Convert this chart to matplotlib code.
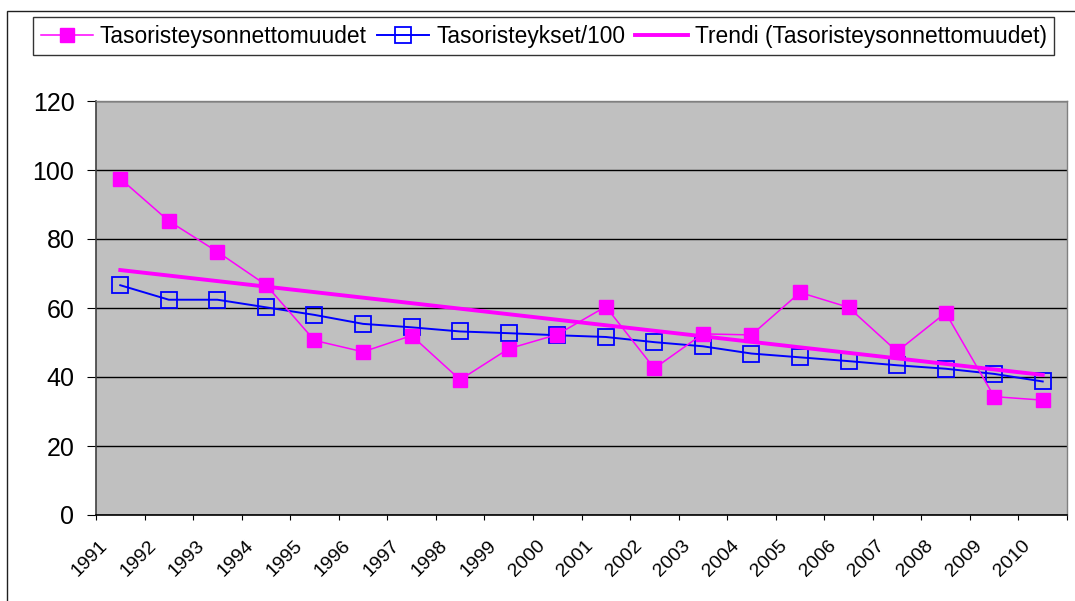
import numpy as np
import matplotlib
matplotlib.use("Agg")
import matplotlib.pyplot as plt
from matplotlib.patches import Rectangle
from matplotlib.transforms import ScaledTranslation
from matplotlib.ticker import FixedLocator

plt.rcParams['font.family'] = ['Liberation Sans', 'DejaVu Sans']

years = ['1991', '1992', '1993', '1994', '1995', '1996', '1997', '1998', '1999', '2000',
         '2001', '2002', '2003', '2004', '2005', '2006', '2007', '2008', '2009', '2010']
onnettomuudet = [97.5, 85.2, 76.3, 66.7, 50.6, 47.3, 52.0, 39.2, 48.2, 52.3,
                 60.4, 42.5, 52.5, 52.2, 64.5, 60.2, 47.4, 58.6, 34.3, 33.3]
risteykset = [66.6, 62.4, 62.4, 60.2, 58.0, 55.4, 54.4, 53.2, 52.7, 52.1,
              51.6, 50.1, 48.9, 46.8, 45.7, 44.6, 43.4, 42.4, 40.9, 38.7]
# linear trend line: value at first and last year
trend_years = ['1991', '2010']
trend_values = [71.0, 40.6]
yticks = [0, 20, 40, 60, 80, 100, 120]

label1 = 'Tasoristeysonnettomuudet'
label2 = 'Tasoristeykset/100'
label3 = 'Trendi (Tasoristeysonnettomuudet)'

W, H = 1075, 601
fig = plt.figure(figsize=(W / 100, H / 100), dpi=100)

# outer chart border (top and left visible, right/bottom run off the image)
top = 1 - 11 / H
fig.patches.append(Rectangle((7 / W, -0.2), 1.2, top + 0.2, transform=fig.transFigure,
                             fill=False, edgecolor='#202020', linewidth=1.0))

ax = fig.add_axes([96 / W, 1 - 515 / H, (1067 - 96) / W, (515 - 101) / H])
ax.set_facecolor('#C0C0C0')

x = np.arange(len(years))
tx = [years.index(y) for y in trend_years]

l1, = ax.plot(x, onnettomuudet, color='#FF00FF', linewidth=1.1, marker='s', markersize=9.5,
              markerfacecolor='#FF00FF', markeredgecolor='#FF00FF', zorder=4, label=label1)
l2, = ax.plot(x, risteykset, color='#0000FF', linewidth=1.4, marker='s', markersize=11.5,
              markerfacecolor='none', markeredgecolor='#0000FF', markeredgewidth=1.3,
              zorder=3, label=label2)
l3, = ax.plot(tx, trend_values, color='#FF00FF', linewidth=2.8, zorder=3.5, label=label3)

ax.set_xlim(-0.5, len(years) - 0.5)
ax.set_ylim(0, 120)
ax.set_yticks(yticks)
ax.set_yticklabels([str(v) for v in yticks], fontsize=18)
ax.yaxis.grid(True, color='black', linewidth=1.0)
ax.set_axisbelow(True)

ax.set_xticks(x)
ax.set_xticklabels(years, fontsize=14, rotation=45, ha='right', va='top')
ax.xaxis.set_minor_locator(FixedLocator(np.arange(-0.5, len(years), 1.0)))
ax.tick_params(axis='x', which='major', length=0, pad=16)
ax.tick_params(axis='x', which='minor', length=3.6, width=0.8, color='black')
ax.tick_params(axis='y', which='major', length=6.5, width=0.8, color='black', pad=9)
offset = ScaledTranslation(-9 / 100, 0, fig.dpi_scale_trans)
for lab in ax.get_xticklabels():
    lab.set_transform(lab.get_transform() + offset)

for side in ['top', 'right']:
    ax.spines[side].set_color('#808080')
    ax.spines[side].set_linewidth(1.0)
ax.spines['left'].set_color('#404040')
ax.spines['left'].set_linewidth(1.2)
ax.spines['bottom'].set_color('black')
ax.spines['bottom'].set_linewidth(1.2)

leg = fig.legend(handles=[l1, l2, l3], loc='upper left', bbox_to_anchor=(33 / W, 1 - 17 / H),
                 ncol=3, fontsize=16.4, frameon=True, fancybox=False, shadow=False,
                 borderpad=0.33, handlelength=2.3, handletextpad=0.3, columnspacing=0.45,
                 borderaxespad=0)
leg.get_frame().set_edgecolor('black')
leg.get_frame().set_linewidth(1.0)

fig.savefig('out.png', dpi=100)
